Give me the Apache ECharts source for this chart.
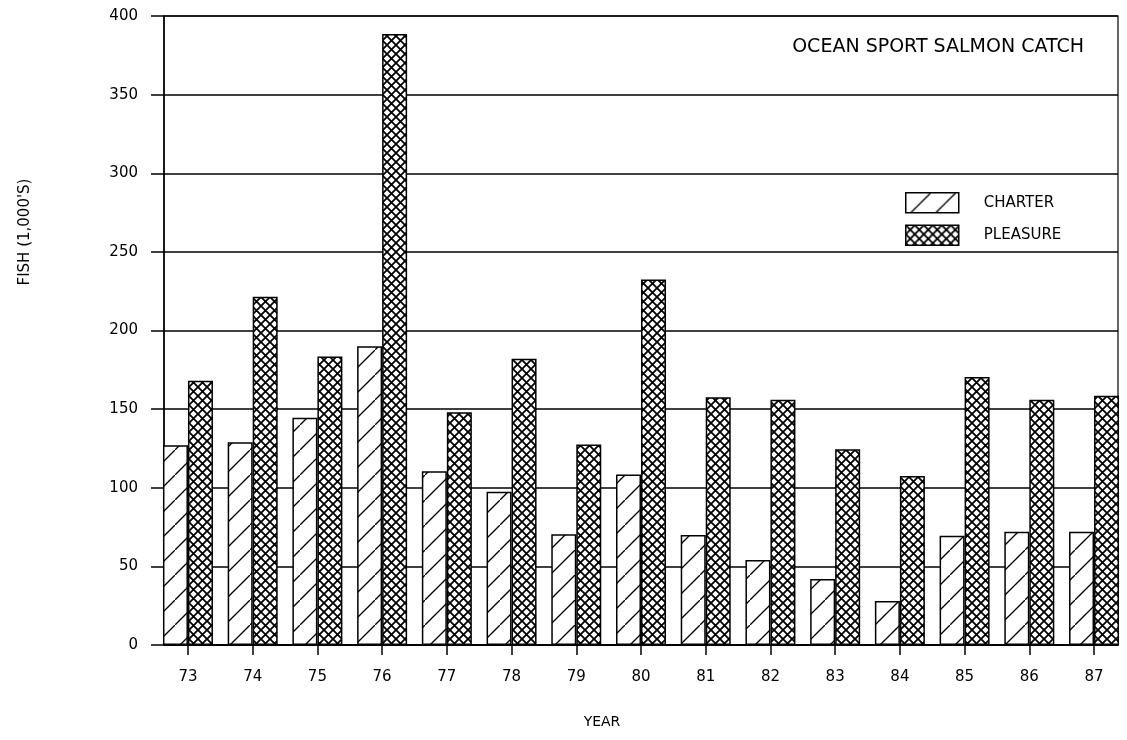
<!DOCTYPE html>
<html>
<head>
<meta charset="utf-8">
<script src="https://cdn.jsdelivr.net/npm/echarts@6/dist/echarts.min.js"></script>
<style>
  html, body { margin: 0; padding: 0; background: #fff; }
  #chart { width: 1127px; height: 740px; }
</style>
</head>
<body>
<div id="chart"></div>
<script>
// data (thousands of fish)
const years = ['73', '74', '75', '76', '77', '78', '79', '80', '81', '82', '83', '84', '85', '86', '87'];
const charter = [127, 129, 144.5, 190, 110.5, 97.5, 70.5, 108.5, 70, 54, 42, 28, 69.5, 72, 72];
const pleasure = [168, 221.5, 183.5, 388.5, 148, 182, 127.5, 232.5, 157.5, 156, 124.5, 107.5, 170.5, 156, 158.5];
const yTicks = [0, 50, 100, 150, 200, 250, 300, 350, 400];

const FONT = 'DejaVu Sans';

// hatch fills
function makeTile(size, draw) {
    const c = document.createElement('canvas');
    c.width = size;
    c.height = size;
    const ctx = c.getContext('2d');
    ctx.fillStyle = '#fff';
    ctx.fillRect(0, 0, size, size);
    ctx.strokeStyle = '#000';
    draw(ctx, size);
    return c;
}

const diagTile = makeTile(25, (ctx, s) => {
    ctx.lineWidth = 1.3;
    ctx.beginPath();
    ctx.moveTo(-1, s + 1);
    ctx.lineTo(s + 1, -1);
    ctx.stroke();
});

const crossTile = makeTile(9, (ctx, s) => {
    ctx.lineWidth = 1.8;
    ctx.beginPath();
    ctx.moveTo(0, 0);
    ctx.lineTo(s, s);
    ctx.moveTo(0, s);
    ctx.lineTo(s, 0);
    ctx.stroke();
});

const myChart = echarts.init(document.getElementById('chart'));
myChart.setOption({
    animation: false,
    backgroundColor: '#fff',
    textStyle: { fontFamily: FONT, color: '#000' },
    title: {
        text: 'OCEAN SPORT SALMON CATCH',
        right: 38,
        top: 33,
        textStyle: { fontFamily: FONT, fontSize: 19, fontWeight: 'normal', color: '#000' },
    },
    legend: {
        orient: 'vertical',
        left: 905,
        top: 192,
        padding: 0,
        itemWidth: 53,
        itemHeight: 20,
        itemGap: 11,
        icon: 'rect',
        itemStyle: { borderColor: '#000', borderWidth: 1.5 },
        textStyle: { fontFamily: FONT, fontSize: 15, color: '#000', padding: [0, 0, 0, 20] },
        data: ['CHARTER', 'PLEASURE'],
    },
    grid: [
        // frame + gridlines
        { left: 164, right: 9, top: 16, bottom: 95, show: true, borderColor: '#000', borderWidth: 1.2, backgroundColor: 'transparent' },
        // bars
        { left: 155.6, right: 0.6, top: 16, bottom: 95 },
    ],
    xAxis: [
        {
            gridIndex: 0,
            type: 'value',
            min: 0,
            max: 1,
            axisLine: { show: true, lineStyle: { color: '#000', width: 1.8 } },
            axisTick: { show: false },
            axisLabel: { show: false },
            splitLine: { show: false },
        },
        {
            gridIndex: 1,
            type: 'category',
            data: years,
            axisLine: { show: false },
            axisTick: { show: true, alignWithLabel: true, length: 10, lineStyle: { color: '#000', width: 1.5 } },
            axisLabel: { margin: 25, fontFamily: FONT, fontSize: 15, color: '#000' },
            splitLine: { show: false },
        },
    ],
    yAxis: [
        {
            gridIndex: 0,
            type: 'value',
            min: yTicks[0],
            max: yTicks[yTicks.length - 1],
            interval: 50,
            axisLine: { show: true, lineStyle: { color: '#000', width: 1.5 } },
            axisTick: { show: true, length: 13, lineStyle: { color: '#000', width: 1.5 } },
            axisLabel: { margin: 26, fontFamily: FONT, fontSize: 15, color: '#000' },
            splitLine: { show: true, lineStyle: { color: '#000', width: 1.5 } },
        },
        {
            gridIndex: 1,
            type: 'value',
            min: yTicks[0],
            max: yTicks[yTicks.length - 1],
            show: false,
        },
    ],
    graphic: [
        {
            type: 'text',
            x: 25,
            y: 232,
            rotation: Math.PI / 2,
            style: { text: "FISH (1,000'S)", font: '15px ' + FONT, fill: '#000', textAlign: 'center', textVerticalAlign: 'middle' },
        },
        {
            type: 'text',
            x: 602,
            y: 722,
            style: { text: 'YEAR', font: '14px ' + FONT, fill: '#000', textAlign: 'center', textVerticalAlign: 'middle' },
        },
    ],
    series: [
        {
            name: 'CHARTER',
            type: 'bar',
            xAxisIndex: 1,
            yAxisIndex: 1,
            data: charter,
            barWidth: 25,
            barGap: '0%',
            itemStyle: { color: { image: diagTile, repeat: 'repeat' }, borderColor: '#000', borderWidth: 1.5 },
        },
        {
            name: 'PLEASURE',
            type: 'bar',
            xAxisIndex: 1,
            yAxisIndex: 1,
            data: pleasure,
            barWidth: 25,
            barGap: '0%',
            itemStyle: { color: { image: crossTile, repeat: 'repeat' }, borderColor: '#000', borderWidth: 1.5 },
        },
    ],
});
</script>
</body>
</html>
